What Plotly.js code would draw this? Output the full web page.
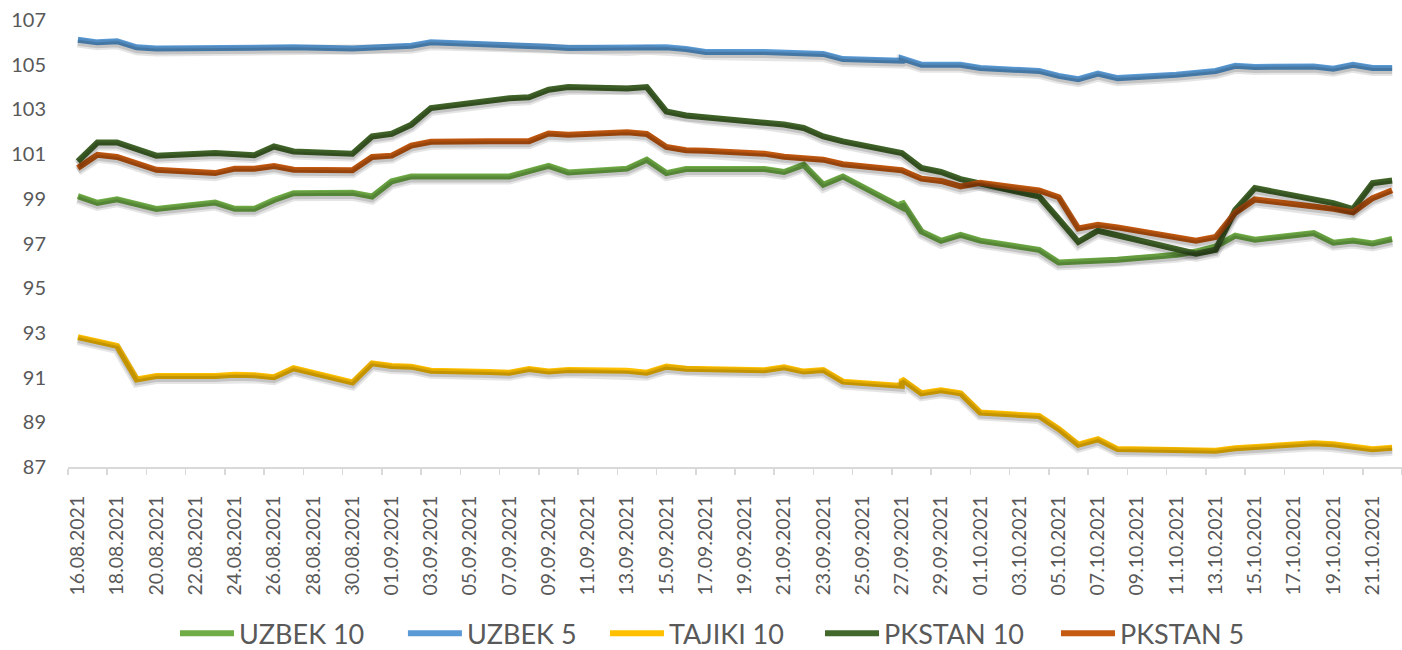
<!DOCTYPE html>
<html>
<head>
<meta charset="utf-8">
<script src="https://cdn.plot.ly/plotly-3.0.1.min.js"></script>
<style>
  html, body { margin: 0; padding: 0; background: #ffffff; }
  #chart { width: 1402px; height: 650px; }
</style>
</head>
<body>
<div id="chart"></div>
<script>
// Trading dates (27.09 appears twice in the source series)
const dates = [
  '2021-08-16','2021-08-17','2021-08-18','2021-08-19','2021-08-20',
  '2021-08-23','2021-08-24','2021-08-25','2021-08-26','2021-08-27',
  '2021-08-30','2021-08-31','2021-09-01','2021-09-02','2021-09-03',
  '2021-09-06','2021-09-07','2021-09-08','2021-09-09','2021-09-10',
  '2021-09-13','2021-09-14','2021-09-15','2021-09-16','2021-09-17',
  '2021-09-20','2021-09-21','2021-09-22','2021-09-23','2021-09-24',
  '2021-09-27','2021-09-27','2021-09-28','2021-09-29','2021-09-30','2021-10-01',
  '2021-10-04','2021-10-05','2021-10-06','2021-10-07','2021-10-08',
  '2021-10-11','2021-10-12','2021-10-13','2021-10-14','2021-10-15',
  '2021-10-18','2021-10-19','2021-10-20','2021-10-21','2021-10-22'
];

const uzbek10 = [
  99.12, 98.82, 98.98, 98.77, 98.55,
  98.83, 98.55, 98.55, 98.95, 99.25,
  99.27, 99.10, 99.78, 100.00, 100.00,
  100.00, 100.00, 100.24, 100.47, 100.18,
  100.35, 100.75, 100.15, 100.33, 100.33,
  100.33, 100.20, 100.52, 99.63, 100.00,
  98.62, 98.88, 97.54, 97.12, 97.39, 97.13,
  96.72, 96.15, 96.19, 96.23, 96.27,
  96.50, 96.64, 96.87, 97.35, 97.17,
  97.47, 97.04, 97.13, 97.00, 97.20
];

const uzbek5 = [
  106.12, 106.00, 106.05, 105.78, 105.72,
  105.75, 105.75, 105.75, 105.72, 105.78,
  105.72, 105.78, 105.80, 105.85, 106.00,
  105.93, 105.90, 105.88, 105.80, 105.75,
  105.75, 105.80, 105.78, 105.70, 105.57,
  105.57, 105.55, 105.52, 105.48, 105.25,
  105.18, 105.28, 105.00, 105.00, 105.00, 104.85,
  104.72, 104.50, 104.35, 104.60, 104.40,
  104.55, 104.62, 104.72, 104.95, 104.90,
  104.92, 104.82, 105.00, 104.85, 104.85
];

const tajiki10 = [
  92.81, 92.62, 92.42, 90.92, 91.07,
  91.07, 91.13, 91.10, 91.02, 91.42,
  90.78, 91.64, 91.52, 91.49, 91.31,
  91.25, 91.22, 91.38, 91.27, 91.34,
  91.31, 91.22, 91.49, 91.40, 91.38,
  91.33, 91.46, 91.27, 91.34, 90.82,
  90.63, 90.93, 90.30, 90.43, 90.30, 89.44,
  89.28, 88.70, 88.00, 88.24, 87.80,
  87.78, 87.76, 87.73, 87.84, 87.90,
  88.06, 88.02, 87.88, 87.79, 87.86
];

const pkstan10 = [
  100.67, 101.52, 101.52, 101.22, 100.93,
  101.05, 101.00, 100.95, 101.34, 101.12,
  101.02, 101.79, 101.91, 102.32, 103.06,
  103.42, 103.50, 103.54, 103.88, 104.00,
  103.93, 104.00, 102.91, 102.73, 102.65,
  102.42, 102.32, 102.17, 101.79, 101.57,
  101.05, 101.05, 100.38, 100.20, 99.88, 99.70,
  99.10, 98.10, 97.07, 97.57, 97.37,
  96.75, 96.54, 96.72, 98.50, 99.48,
  99.00, 98.81, 98.54, 99.70, 99.82
];

const pkstan5 = [
  100.38, 100.97, 100.87, 100.60, 100.30,
  100.15, 100.35, 100.35, 100.47, 100.30,
  100.28, 100.87, 100.93, 101.38, 101.55,
  101.58, 101.60, 101.58, 101.92, 101.87,
  101.98, 101.90, 101.32, 101.17, 101.15,
  101.02, 100.88, 100.82, 100.75, 100.55,
  100.28, 100.28, 99.90, 99.80, 99.55, 99.72,
  99.37, 99.07, 97.67, 97.84, 97.72,
  97.30, 97.13, 97.29, 98.38, 98.97,
  98.68, 98.55, 98.40, 99.03, 99.38
];

const seriesNames = ['UZBEK 10', 'UZBEK 5', 'TAJIKI 10', 'PKSTAN 10', 'PKSTAN 5'];
const seriesValues = [uzbek10, uzbek5, tajiki10, pkstan10, pkstan5];
const seriesColors = ['#70AD47', '#5B9BD5', '#FFC000', '#43682B', '#C55A11'];

const textColor = '#595959';
const fontFamily = 'Lato, "Open Sans", sans-serif';
const DAY = 86400000;

const yMin = 87, yMax = 107;
const xStart = '2021-08-15 12:00', xEnd = '2021-10-22 12:00';
// plot area height 447 px for 20 units -> shadow drop of ~3 px
const shadowShift = 3 * (yMax - yMin) / 447;

// one legend per series so each entry sits where the reference puts it
const legendIds = ['legend', 'legend2', 'legend3', 'legend4', 'legend5'];
const legendLeft = [0.1248, 0.2874, 0.4315, 0.5849, 0.7532];

// soft shadows: the same series drawn on an overlaid y axis whose range is shifted,
// so they sit a few pixels below the coloured lines
const shadowTraces = [];
seriesNames.forEach((name, i) => {
  shadowTraces.push({
    type: 'scatter', mode: 'lines', name: name + ' shadow',
    x: dates, y: seriesValues[i], yaxis: 'y2',
    line: { color: 'rgba(0,0,0,0.10)', width: 10 },
    showlegend: false, hoverinfo: 'skip'
  });
  shadowTraces.push({
    type: 'scatter', mode: 'lines', name: name + ' shadow core',
    x: dates, y: seriesValues[i], yaxis: 'y2',
    line: { color: 'rgba(0,0,0,0.14)', width: 6 },
    showlegend: false, hoverinfo: 'skip'
  });
});

const lineTraces = seriesNames.map((name, i) => ({
  type: 'scatter',
  mode: 'lines',
  name: name,
  legend: legendIds[i],
  x: dates,
  y: seriesValues[i],
  line: { color: seriesColors[i], width: 6, shape: 'linear' },
  hoverinfo: 'x+y+name'
}));

const layout = {
  width: 1402,
  height: 650,
  margin: { l: 68, r: 0, t: 20, b: 183 },
  paper_bgcolor: '#ffffff',
  plot_bgcolor: '#ffffff',
  font: { family: fontFamily, color: textColor, size: 20 },
  showlegend: true,
  xaxis: {
    type: 'date',
    range: [xStart, xEnd],
    tick0: '2021-08-16',
    dtick: 2 * DAY,
    tickformat: '%d.%m.%Y',
    tickangle: -90,
    ticks: '',
    ticklabelstandoff: 19,
    tickfont: { family: fontFamily, size: 19.5, color: textColor },
    showgrid: false,
    zeroline: false,
    showline: true,
    linecolor: '#D9D9D9',
    linewidth: 2,
    minor: {
      ticks: 'outside',
      tick0: xStart,
      dtick: 2 * DAY,
      ticklen: 6,
      tickwidth: 1.5,
      tickcolor: '#D9D9D9',
      showgrid: false
    },
    fixedrange: true
  },
  yaxis: {
    range: [yMin, yMax],
    tick0: yMin,
    dtick: 2,
    ticks: '',
    ticklabelstandoff: 21,
    tickfont: { family: fontFamily, size: 20, color: textColor },
    showgrid: false,
    zeroline: false,
    showline: false,
    fixedrange: true
  },
  yaxis2: {
    overlaying: 'y',
    range: [yMin + shadowShift, yMax + shadowShift],
    visible: false,
    showgrid: false,
    zeroline: false,
    fixedrange: true
  }
};

legendIds.forEach((id, i) => {
  layout[id] = {
    orientation: 'h',
    xref: 'container',
    x: legendLeft[i],
    xanchor: 'left',
    yref: 'container',
    y: 0.025,
    yanchor: 'middle',
    itemwidth: 54,
    font: { family: fontFamily, size: 27, color: textColor },
    bgcolor: 'rgba(0,0,0,0)'
  };
});

Plotly.newPlot('chart', shadowTraces.concat(lineTraces), layout, { displayModeBar: false, staticPlot: true });
</script>
</body>
</html>
